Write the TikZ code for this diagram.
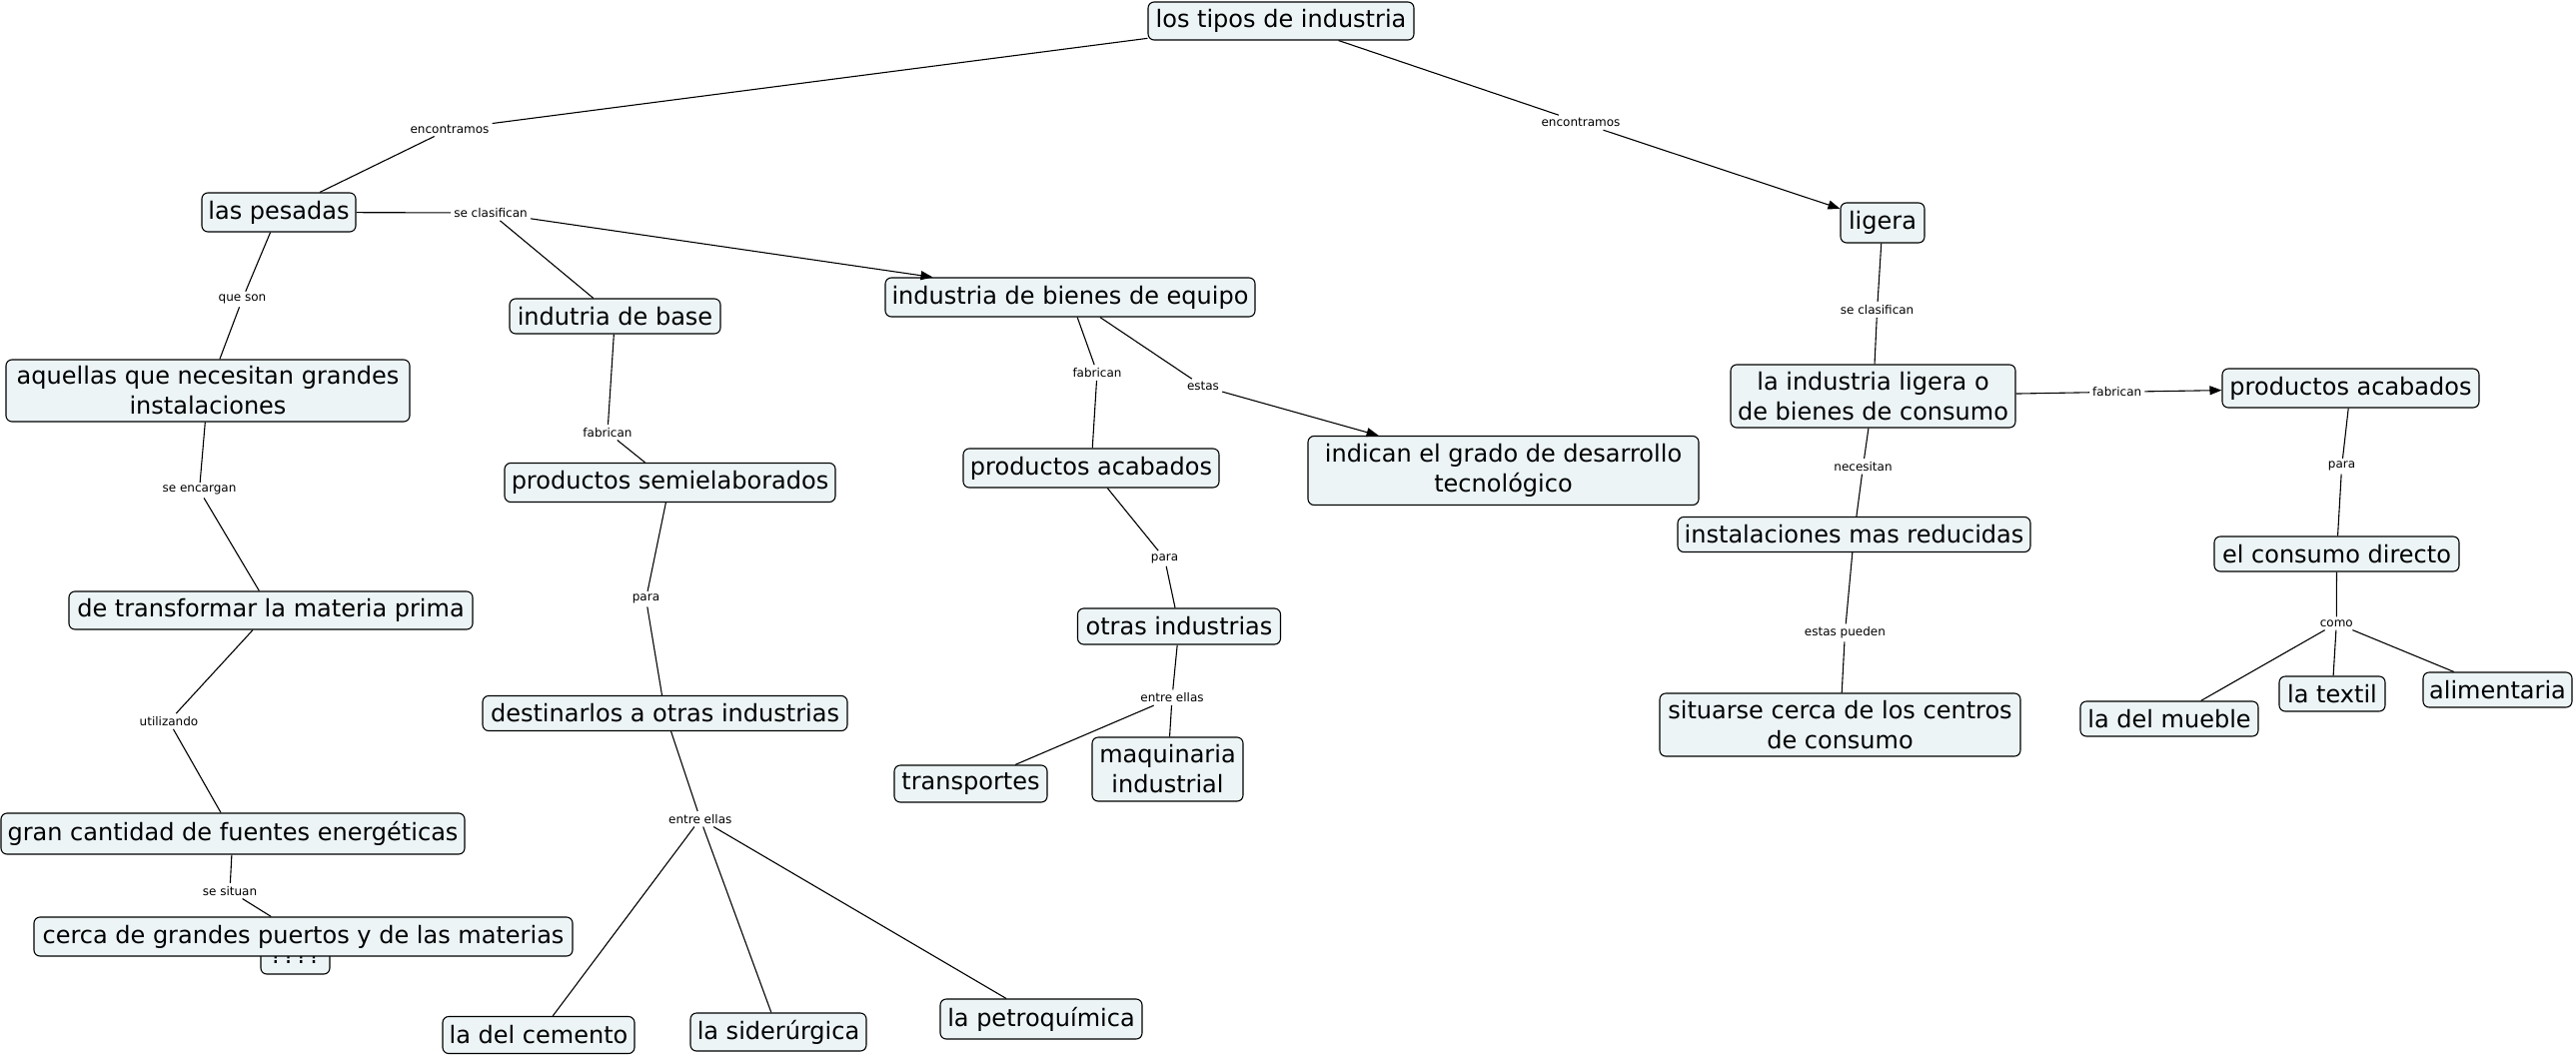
\documentclass[tikz,border=0pt]{standalone}
\usepackage{fontspec}
\setmainfont{DejaVu Sans}
\usetikzlibrary{arrows.meta}
\definecolor{cfill}{RGB}{236,244,246}
\begin{document}
\begin{tikzpicture}[x=1pt,y=-1pt,
  concept/.style={draw=black, line width=1.1pt, fill=cfill, rounded corners=6pt, inner sep=1pt,
    font=\fontsize{24}{30}\selectfont, align=center, text=black},
  sz/.style n args={2}{minimum width=#1pt, minimum height=#2pt},
  lbl/.style={inner sep=3pt, font=\fontsize{12}{14}\selectfont, text=black},
  link/.style={line width=1.1pt, draw=black},
  arr/.style={link, -{Triangle[length=12pt,width=9pt]}}
]
\fill[white] (0,0) rectangle (2578,1057);
\useasboundingbox (0,0) rectangle (2578,1057);

% concepts
\node[concept, sz={266}{38}] (n1) at (1282,21) {los tipos de industria};
\node[concept, sz={154}{39}] (n2) at (279,212.5) {las pesadas};
\node[concept, sz={404}{62}] (n3) at (208,391) {aquellas que necesitan grandes\\instalaciones};
\node[concept, sz={404}{38}] (n4) at (271,611) {de transformar la materia prima};
\node[concept, sz={464}{41}] (n5) at (233,834.5) {gran cantidad de fuentes energéticas};
\node[concept, sz={69}{38}] (nq) at (295.5,956) {????};
\node[concept, sz={539}{39}] (n6) at (303.5,937.5) {cerca de grandes puertos y de las materias};
\node[concept, sz={211}{35}] (n7) at (615.5,316.5) {indutria de base};
\node[concept, sz={331}{39}] (n8) at (670.5,483) {productos semielaborados};
\node[concept, sz={365}{35}] (n9) at (665.5,714) {destinarlos a otras industrias};
\node[concept, sz={192}{37}] (n10) at (539,1036) {la del cemento};
\node[concept, sz={176}{38}] (n11) at (779,1033) {la siderúrgica};
\node[concept, sz={202}{40}] (n12) at (1042,1020) {la petroquímica};
\node[concept, sz={370}{39}] (n13) at (1071,297.5) {industria de bienes de equipo};
\node[concept, sz={256}{39}] (n14) at (1092,468.5) {productos acabados};
\node[concept, sz={391}{69}] (n15) at (1504.5,471) {indican el grado de desarrollo\\tecnológico};
\node[concept, sz={203}{36}] (n16) at (1180,627) {otras industrias};
\node[concept, sz={153}{37}] (n17) at (971.5,784.5) {transportes};
\node[concept, sz={151}{64}] (n18) at (1168.5,770) {maquinaria\\industrial};
\node[concept, sz={84}{40}] (n19) at (1884,223) {ligera};
\node[concept, sz={285}{63}] (n20) at (1874.5,396.5) {la industria ligera o\\de bienes de consumo};
\node[concept, sz={257}{39}] (n21) at (2352.5,388.5) {productos acabados};
\node[concept, sz={353}{35}] (n22) at (1855.5,535) {instalaciones mas reducidas};
\node[concept, sz={361}{63}] (n23) at (1841.5,725.5) {situarse cerca de los centros\\de consumo};
\node[concept, sz={245}{35}] (n24) at (2338.5,554.5) {el consumo directo};
\node[concept, sz={178}{35}] (n25) at (2171,719.5) {la del mueble};
\node[concept, sz={106}{35}] (n26) at (2334,694.5) {la textil};
\node[concept, sz={149}{35}] (n27) at (2499.5,690.5) {alimentaria};

% linking phrases
\node[lbl] (l1) at (450,129) {encontramos};
\node[lbl] (l2) at (1582,122.7) {encontramos};
\node[lbl] (l3) at (491,213) {se clasifican};
\node[lbl] (l4) at (242.5,299.5) {que son};
\node[lbl] (l5) at (199.5,490.7) {se encargan};
\node[lbl] (l6) at (169,722) {utilizando};
\node[lbl] (l7) at (230,891.7) {se situan};
\node[lbl] (l8) at (608,432.7) {fabrican};
\node[lbl] (l9) at (646.5,599.6) {para};
\node[lbl] (l10) at (700.8,819.7) {entre ellas};
\node[lbl] (l11) at (1098,373) {fabrican};
\node[lbl] (l12) at (1204,386.7) {estas};
\node[lbl] (l13) at (1165.5,559) {para};
\node[lbl] (l14) at (1173,698.3) {entre ellas};
\node[lbl] (l15) at (1878.6,310) {se clasifican};
\node[lbl] (l16) at (2118.7,392.3) {fabrican};
\node[lbl] (l17) at (1864.5,466.7) {necesitan};
\node[lbl] (l18) at (1846.4,633.3) {estas pueden};
\node[lbl] (l19) at (2343.6,466.7) {para};
\node[lbl] (l20) at (2338.3,624) {como};

% connectors
\draw[link] (n1) -- (l1);
\draw[link] (l1) -- (n2);
\draw[link] (n1) -- (l2);
\draw[arr] (l2) -- (n19);
\draw[link] (n2) -- (l3);
\draw[link] (l3) -- (n7);
\draw[arr] (l3) -- (n13);
\draw[link] (n2) -- (l4);
\draw[link] (l4) -- (n3);
\draw[link] (n3) -- (l5);
\draw[link] (l5) -- (n4);
\draw[link] (n4) -- (l6);
\draw[link] (l6) -- (n5);
\draw[link] (n5) -- (l7);
\draw[link] (l7) -- (n6);
\draw[link] (n7) -- (l8);
\draw[link] (l8) -- (n8);
\draw[link] (n8) -- (l9);
\draw[link] (l9) -- (n9);
\draw[link] (n9) -- (l10);
\draw[link] (l10) -- (n10);
\draw[link] (l10) -- (n11);
\draw[link] (l10) -- (n12);
\draw[link] (n13) -- (l11);
\draw[link] (l11) -- (n14);
\draw[link] (n13) -- (l12);
\draw[arr] (l12) -- (n15);
\draw[link] (n14) -- (l13);
\draw[link] (l13) -- (n16);
\draw[link] (n16) -- (l14);
\draw[link] (l14) -- (n17);
\draw[link] (l14) -- (n18);
\draw[link] (n19) -- (l15);
\draw[link] (l15) -- (n20);
\draw[link] (n20) -- (l16);
\draw[arr] (l16) -- (n21);
\draw[link] (n20) -- (l17);
\draw[link] (l17) -- (n22);
\draw[link] (n22) -- (l18);
\draw[link] (l18) -- (n23);
\draw[link] (n21) -- (l19);
\draw[link] (l19) -- (n24);
\draw[link] (n24) -- (l20);
\draw[link] (l20) -- (n25);
\draw[link] (l20) -- (n26);
\draw[link] (l20) -- (n27);
\end{tikzpicture}
\end{document}
